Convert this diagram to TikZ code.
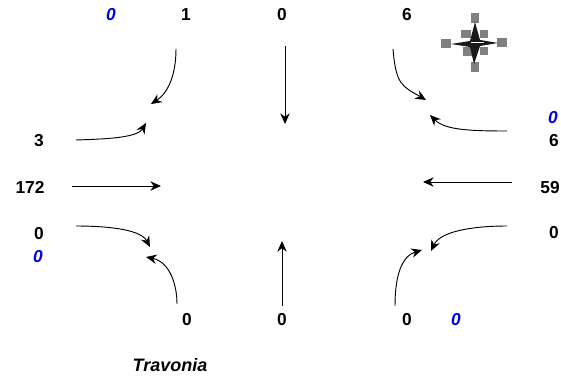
\documentclass[tikz,border=0pt]{standalone}
\usepackage{fontspec}
\setmainfont{Liberation Sans}
\usetikzlibrary{arrows.meta}
\definecolor{bluecount}{RGB}{0,0,230}
\tikzstyle{count} = [inner sep=0pt, font=\fontsize{13}{15}\selectfont\bfseries]
\tikzstyle{blind} = [inner sep=0pt, text=bluecount, font=\fontsize{13}{15}\selectfont\bfseries\itshape]
\tikzstyle{arrow} = [-{Stealth[length=8pt,width=7pt]},line width=0.7pt]
\tikzstyle{star} = [fill=black!90, draw=none]
\tikzstyle{tip} = [fill=black!50, draw=none]

\begin{document}
\begin{tikzpicture}[x=0.75pt, y=-0.75pt]
    \useasboundingbox (0,0) rectangle (561,378);
    % counts
    \node (topBlind) [blind] at (111,15) {0};
    \node (topLeft) [count] at (186,15) {1};
    \node (topMid) [count] at (282,15) {0};
    \node (topRight) [count] at (407,15) {6};
    \node (rightBlindA) [blind] at (553,118) {0};
    \node (rightA) [count] at (554,141) {6};
    \node (rightB) [count] at (550,188) {59};
    \node (rightC) [count] at (554,233) {0};
    \node (leftA) [count] at (39,141) {3};
    \node (leftB) [count] at (30,187) {172};
    \node (leftC) [count] at (39,234) {0};
    \node (leftBlind) [blind] at (38,257) {0};
    \node (botLeft) [count] at (187,320) {0};
    \node (botMid) [count] at (282,320) {0};
    \node (botRight) [count] at (407,320) {0};
    \node (botBlind) [blind] at (456,320) {0};
    \node (townName) [inner sep=0pt, font=\fontsize{13.5}{15}\selectfont\bfseries\itshape] at (170,365) {Travonia};
    % free ends
    \coordinate (a1) at (176,49);
    \coordinate (a2) at (151,104);
    \coordinate (b1) at (76,140);
    \coordinate (b2) at (146,123);
    \coordinate (c1) at (72,186);
    \coordinate (c2) at (161,186);
    \coordinate (d1) at (76,226);
    \coordinate (d2) at (150,247);
    \coordinate (e1) at (177,304);
    \coordinate (e2) at (146,257);
    \coordinate (f1) at (285,46);
    \coordinate (f2) at (285,124);
    \coordinate (g1) at (282,306);
    \coordinate (g2) at (282,241);
    \coordinate (h1) at (393,49);
    \coordinate (h2) at (426,100);
    \coordinate (i1) at (507,131);
    \coordinate (i2) at (430,115);
    \coordinate (j1) at (512,182);
    \coordinate (j2) at (423,182);
    \coordinate (k1) at (507,226);
    \coordinate (k2) at (431,251);
    \coordinate (l1) at (395,306);
    \coordinate (l2) at (422,250);

    \draw [arrow] (a1) .. controls (176,75) and (168,93) .. (a2);
    \draw [arrow] (b1) .. controls (105,139) and (137,138) .. (b2);
    \draw [arrow] (c1) -- (c2);
    \draw [arrow] (d1) .. controls (100,226) and (140,228) .. (d2);
    \draw [arrow] (e1) .. controls (177,285) and (170,262) .. (e2);
    \draw [arrow] (f1) -- (f2);
    \draw [arrow] (g1) -- (g2);
    \draw [arrow] (h1) .. controls (396,85) and (402,86) .. (h2);
    \draw [arrow] (i1) .. controls (470,131) and (445,130) .. (i2);
    \draw [arrow] (j1) -- (j2);
    \draw [arrow] (k1) .. controls (470,226) and (440,232) .. (k2);
    \draw [arrow] (l1) .. controls (395,275) and (402,256) .. (l2);
    % compass
    \fill [tip] (471,13) rectangle (479,23);
    \fill [tip] (471,62) rectangle (479,72);
    \fill [tip] (441,39) rectangle (451,48);
    \fill [tip] (497,38) rectangle (507,47);
    \fill [tip] (461,30) rectangle (471,38);
    \fill [tip] (480,30) rectangle (488,38);
    \fill [tip] (463,47) rectangle (472,56);
    \fill [tip] (480,47) rectangle (488,55);
    \fill [star] (475,22) -- (480,40) -- (498,43) -- (480,46) -- (474,64) -- (470,47) -- (451,44) -- (470,41) -- cycle;
    \fill [white] (471,42.5) rectangle (484,43.5);
\end{tikzpicture}
\end{document}
